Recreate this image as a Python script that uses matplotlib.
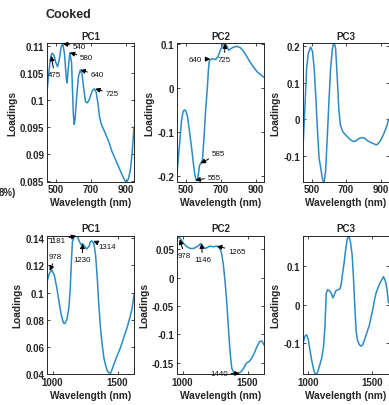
import matplotlib
matplotlib.use('Agg')
import matplotlib.pyplot as plt

plt.rcParams['font.family'] = ['Liberation Sans', 'DejaVu Sans']
plt.rcParams['axes.unicode_minus'] = False

# ---- top row: 450-950 nm ----
vis_wl_pc1 = [450, 460, 470, 475, 480, 490, 500, 510, 520, 530, 540, 550, 560, 565, 570, 580, 590,
              600, 605, 610, 620, 630, 640, 650, 660, 670, 680, 690, 700, 710, 720, 730, 740, 750,
              760, 780, 800, 820, 840, 860, 880, 895, 905, 915, 925, 935, 946]
vis_pc1 = [0.1015, 0.1050, 0.1078, 0.1084, 0.1087, 0.1083, 0.1070, 0.1062, 0.1075, 0.1098, 0.1105,
           0.1085, 0.1040, 0.1032, 0.1055, 0.1088, 0.1070, 0.0975, 0.0955, 0.0965, 0.1010, 0.1045,
           0.1056, 0.1048, 0.1020, 0.0997, 0.0995, 0.1000, 0.1010, 0.1018, 0.1021, 0.1015, 0.0995,
           0.0968, 0.0955, 0.0940, 0.0925, 0.0905, 0.0890, 0.0875, 0.0860, 0.0850, 0.0848, 0.0855,
           0.0870, 0.0900, 0.0950]

vis_wl_pc2 = [450, 463, 476, 484, 491, 500, 510, 520, 533, 544, 552, 558, 566, 572, 578, 585, 595,
              604, 613, 623, 629, 634, 641, 650, 660, 670, 683, 698, 713, 722, 732, 745, 758, 773,
              792, 811, 829, 848, 867, 886, 908, 927, 946]
vis_pc2 = [-0.195, -0.135, -0.074, -0.055, -0.050, -0.052, -0.065, -0.095, -0.135, -0.173, -0.198,
           -0.208, -0.210, -0.195, -0.176, -0.171, -0.163, -0.112, -0.052, 0.000, 0.040, 0.060,
           0.064, 0.066, 0.065, 0.064, 0.070, 0.086, 0.0985, 0.101, 0.096, 0.085, 0.089, 0.092,
           0.094, 0.091, 0.083, 0.071, 0.058, 0.047, 0.036, 0.0295, 0.024]

vis_wl_pc3 = [452, 462, 471, 481, 494, 505, 515, 524, 534, 543, 553, 562, 572, 581, 591, 601, 610,
              620, 629, 639, 648, 658, 667, 681, 700, 719, 738, 753, 765, 780, 795, 810, 823, 838,
              852, 871, 881, 900, 919, 938, 946]
vis_pc3 = [-0.058, 0.045, 0.139, 0.181, 0.198, 0.186, 0.139, 0.064, -0.030, -0.105, -0.133, -0.161,
           -0.175, -0.142, -0.048, 0.055, 0.139, 0.190, 0.212, 0.195, 0.120, 0.026, -0.016, -0.034,
           -0.044, -0.053, -0.060, -0.060, -0.056, -0.051, -0.050, -0.052, -0.058, -0.062, -0.065,
           -0.069, -0.069, -0.058, -0.039, -0.016, 0.000]

# ---- bottom row: 957-1627 nm ----
nir_wl_pc1 = [957, 975, 993, 1013, 1033, 1051, 1069, 1084, 1094, 1110, 1125, 1135, 1145, 1153, 1166,
              1178, 1191, 1206, 1222, 1232, 1247, 1262, 1280, 1293, 1303, 1318, 1331, 1344, 1356,
              1369, 1382, 1395, 1407, 1420, 1433, 1446, 1458, 1476, 1496, 1522, 1547, 1573, 1598,
              1613, 1627]
nir_pc1 = [0.108, 0.114, 0.1167, 0.113, 0.1033, 0.0923, 0.0825, 0.0776, 0.0771, 0.080, 0.0886,
           0.1008, 0.1229, 0.1376, 0.1412, 0.1420, 0.1412, 0.1376, 0.1350, 0.1360, 0.1340, 0.1320,
           0.1340, 0.1376, 0.1380, 0.1360, 0.1278, 0.1106, 0.0910, 0.0740, 0.0617, 0.0519, 0.0470,
           0.0426, 0.0409, 0.0405, 0.0433, 0.0482, 0.0531, 0.0592, 0.0666, 0.0739, 0.0825, 0.0886,
           0.0984]

nir_wl_pc2 = [957, 975, 988, 1008, 1033, 1059, 1084, 1110, 1127, 1140, 1153, 1171, 1191, 1211, 1237,
              1262, 1280, 1298, 1313, 1326, 1339, 1349, 1359, 1369, 1379, 1395, 1415, 1433, 1451,
              1471, 1491, 1512, 1532, 1552, 1573, 1593, 1611, 1627]
nir_pc2 = [0.0688, 0.0705, 0.067, 0.060, 0.0541, 0.0512, 0.0512, 0.0541, 0.057, 0.060, 0.0553,
           0.0512, 0.0529, 0.0553, 0.0541, 0.0553, 0.0529, 0.0453, 0.0248, -0.0045, -0.0397,
           -0.0749, -0.110, -0.1393, -0.1598, -0.1675, -0.1698, -0.1686, -0.1657, -0.1598, -0.151,
           -0.148, -0.1423, -0.1335, -0.1217, -0.1129, -0.1118, -0.1188]

nir_wl_pc3 = [961, 973, 986, 999, 1011, 1027, 1045, 1057, 1073, 1088, 1103, 1118, 1129, 1139, 1149,
              1164, 1180, 1192, 1202, 1215, 1230, 1246, 1256, 1266, 1279, 1291, 1304, 1317, 1330,
              1342, 1352, 1363, 1373, 1383, 1399, 1414, 1426, 1439, 1452, 1464, 1477, 1490, 1503,
              1515, 1528, 1541, 1554, 1566, 1579, 1587, 1597, 1607, 1617, 1627]
nir_pc3 = [-0.0957, -0.081, -0.078, -0.091, -0.117, -0.147, -0.173, -0.182, -0.173, -0.156, -0.139,
           -0.109, -0.057, 0.029, 0.038, 0.036, 0.028, 0.017, 0.025, 0.036, 0.038, 0.040, 0.051,
           0.077, 0.107, 0.141, 0.169, 0.178, 0.159, 0.128, 0.072, -0.004, -0.066, -0.091, -0.104,
           -0.107, -0.103, -0.091, -0.078, -0.066, -0.053, -0.033, -0.014, 0.008, 0.028, 0.040,
           0.051, 0.059, 0.066, 0.072, 0.066, 0.055, 0.034, 0.005]

# peak labels
vis_pc1_peaks = ['475', '540', '580', '640', '725']
vis_pc1_tip = [0.1082, 0.1105, 0.1088, 0.1056, 0.1021]
vis_pc2_peaks = ['640', '725', '585', '555']
vis_pc2_tip = [0.065, 0.1005, -0.171, -0.209]
nir_pc1_peaks = ['978', '1181', '1230', '1314']
nir_pc1_tip = [0.1160, 0.1418, 0.1360, 0.1380]
nir_pc2_peaks = ['978', '1146', '1265', '1440']
nir_pc2_tip = [0.067, 0.060, 0.0553, -0.1690]

line_color = '#2b8bc6'
txt_color = '#262626'

fig = plt.figure(figsize=(3.89, 4.06), dpi=100)
W, H = 389.0, 406.0


def make_ax(left, right, top, bottom):
    return fig.add_axes([left / W, 1 - bottom / H, (right - left) / W, (bottom - top) / H])


def style(ax, title, xlim, ylim, xticks, yticks):
    ax.set_xlim(xlim)
    ax.set_ylim(ylim)
    ax.set_xticks(xticks)
    ax.set_yticks(yticks)
    ax.set_yticklabels(['%g' % v for v in yticks])
    ax.set_xticklabels(['%g' % v for v in xticks])
    ax.tick_params(direction='in', top=True, right=True, length=2.5, width=0.6,
                   labelsize=7, pad=2, colors=txt_color)
    for lab in ax.get_xticklabels() + ax.get_yticklabels():
        lab.set_fontweight('bold')
    for sp in ax.spines.values():
        sp.set_linewidth(0.7)
        sp.set_color(txt_color)
    ax.set_title(title, fontsize=7, fontweight='bold', pad=3, color=txt_color)
    ax.set_xlabel('Wavelength (nm)', fontsize=7.3, fontweight='bold', labelpad=2, color=txt_color)
    ax.set_ylabel('Loadings', fontsize=7.3, fontweight='bold', labelpad=2, color=txt_color)


def label_peaks(ax, labels, tips, offsets):
    for lab, ty, off in zip(labels, tips, offsets):
        ax.annotate(lab, xy=(float(lab), ty), xytext=off, textcoords='offset pixels',
                    fontsize=5.7, ha='center', va='center', color='#111111',
                    arrowprops=dict(arrowstyle='-|>', color='k', lw=0.7, mutation_scale=7,
                                    shrinkA=0.5, shrinkB=0))


cols = [(47, 134), (177, 264), (303, 388.5)]
row1 = (44, 182.5)
row2 = (236.5, 375)
vis_xlim = (450, 946)
nir_xlim = (957, 1627)

ax = make_ax(cols[0][0], cols[0][1], *row1)
ax.plot(vis_wl_pc1, vis_pc1, color=line_color, lw=1.1)
style(ax, 'PC1', vis_xlim, (0.0849, 0.1106), [500, 700, 900],
      [0.085, 0.09, 0.095, 0.1, 0.105, 0.11])
label_peaks(ax, vis_pc1_peaks, vis_pc1_tip, [(3, -19), (17, -3), (17, -5), (17, -5), (17, -5)])

ax = make_ax(cols[1][0], cols[1][1], *row1)
ax.plot(vis_wl_pc2, vis_pc2, color=line_color, lw=1.1)
style(ax, 'PC2', vis_xlim, (-0.212, 0.1015), [500, 700, 900], [-0.2, -0.1, 0, 0.1])
label_peaks(ax, vis_pc2_peaks, vis_pc2_tip, [(-15, 0), (-1, -16), (18, 10), (19, 3)])

ax = make_ax(cols[2][0], cols[2][1], *row1)
ax.plot(vis_wl_pc3, vis_pc3, color=line_color, lw=1.1)
style(ax, 'PC3', vis_xlim, (-0.170, 0.209), [500, 700, 900], [-0.1, 0, 0.1, 0.2])

ax = make_ax(cols[0][0], cols[0][1], *row2)
ax.plot(nir_wl_pc1, nir_pc1, color=line_color, lw=1.1)
style(ax, 'PC1', nir_xlim, (0.040, 0.142), [1000, 1500], [0.04, 0.06, 0.08, 0.1, 0.12, 0.14])
label_peaks(ax, nir_pc1_peaks, nir_pc1_tip, [(6, 14), (-19, -5), (0, -16), (14, -6)])

ax = make_ax(cols[1][0], cols[1][1], *row2)
ax.plot(nir_wl_pc2, nir_pc2, color=line_color, lw=1.1)
style(ax, 'PC2', nir_xlim, (-0.170, 0.074), [1000, 1500], [-0.15, -0.1, -0.05, 0, 0.05])
label_peaks(ax, nir_pc2_peaks, nir_pc2_tip, [(5, -16), (1, -16), (20, -5), (-21, 0)])

ax = make_ax(cols[2][0], cols[2][1], *row2)
ax.plot(nir_wl_pc3, nir_pc3, color=line_color, lw=1.1)
style(ax, 'PC3', nir_xlim, (-0.179, 0.178), [1000, 1500], [-0.1, 0, 0.1])

fig.text(45 / W, 1 - 15 / H, 'Cooked', fontsize=9, fontweight='bold', ha='left', va='center',
         color=txt_color)
fig.text(-1 / W, 1 - 193 / H, '8%)', fontsize=7, fontweight='bold', ha='left', va='center',
         color=txt_color)

fig.savefig('out.png', dpi=100)
